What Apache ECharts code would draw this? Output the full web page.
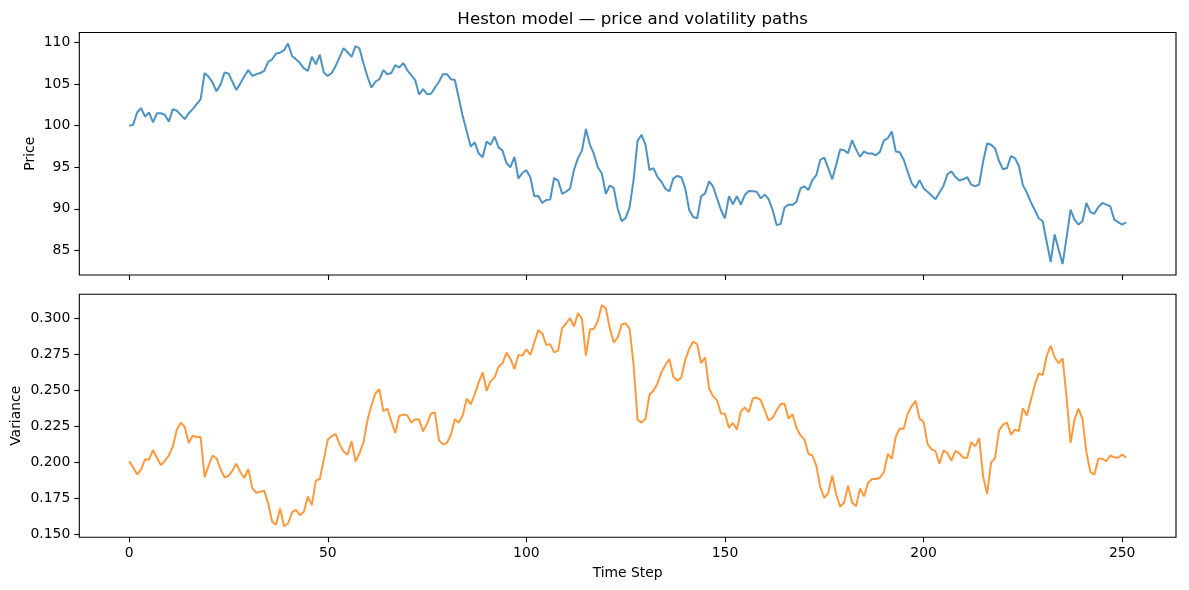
<!DOCTYPE html>
<html><head><meta charset="utf-8">
<script src="https://cdn.jsdelivr.net/npm/echarts@6/dist/echarts.min.js"></script>
<style>html,body{margin:0;padding:0;background:#fff}#c{width:1189px;height:590px}</style>
</head><body><div id="c"></div>
<script>
const price = [
100.0,100.1,101.6,102.1,101.1,101.6,100.4,101.5,101.5,101.3,
100.5,102.0,101.8,101.3,100.8,101.5,102.0,102.6,103.2,106.35,
105.9,105.2,104.15,104.95,106.4,106.3,105.3,104.3,105.1,105.95,
106.7,106.0,106.2,106.35,106.6,107.7,108.0,108.7,108.8,109.1,
109.9,108.4,108.0,107.55,106.9,106.6,108.3,107.4,108.55,106.4,
106.0,106.35,107.2,108.3,109.35,108.85,108.3,109.6,109.3,107.5,
105.9,104.6,105.3,105.6,106.7,106.2,106.35,107.3,107.0,107.55,
106.7,106.1,105.5,103.75,104.4,103.8,103.85,104.6,105.3,106.2,
106.2,105.6,105.5,103.3,101.1,99.3,97.5,98.0,96.65,96.2,
98.1,97.7,98.7,97.4,97.0,95.5,95.0,96.25,93.65,94.3,
94.65,93.8,91.5,91.55,90.7,91.05,91.1,93.7,93.4,91.8,
92.05,92.45,94.7,96.1,97.0,99.6,97.7,96.6,95.0,94.25,
91.8,92.8,92.5,90.0,88.5,88.9,90.2,93.5,98.2,98.9,
97.7,94.65,94.9,93.85,93.25,92.4,92.1,93.65,93.95,93.8,
92.45,89.85,89.0,88.85,91.5,91.85,93.3,92.7,91.25,89.85,
88.85,91.5,90.55,91.5,90.5,91.65,92.15,92.1,92.05,91.25,
91.7,91.15,89.85,88.05,88.15,90.15,90.5,90.45,90.85,92.45,
92.7,92.25,93.45,94.05,95.9,96.15,94.9,93.55,95.3,97.15,
97.05,96.7,98.25,97.15,96.25,96.9,96.65,96.65,96.45,96.85,
98.2,98.5,99.3,96.9,96.8,95.9,94.45,93.1,92.5,93.45,
92.45,92.05,91.6,91.15,91.95,92.75,94.15,94.5,93.85,93.4,
93.55,93.8,92.9,92.7,92.95,95.7,97.85,97.7,97.25,95.75,
94.75,94.9,96.35,96.1,95.15,92.85,91.95,90.8,89.85,88.85,
88.5,86.0,83.6,86.9,85.1,83.35,86.5,89.9,88.7,88.1,
88.5,90.7,89.6,89.4,90.2,90.7,90.5,90.3,88.7,88.4,
88.1,88.35
];
const variance = [
0.2009,0.1968,0.1919,0.1951,0.2023,0.2021,0.2086,0.2033,0.1982,0.2012,
0.2049,0.2110,0.2228,0.2277,0.2247,0.2135,0.2186,0.2177,0.2177,0.1898,
0.1979,0.2049,0.2030,0.1954,0.1898,0.1907,0.1944,0.1993,0.1933,0.1893,
0.1956,0.1823,0.1791,0.1798,0.1805,0.1716,0.1589,0.1568,0.1682,0.1558,
0.1577,0.1654,0.1672,0.1635,0.1658,0.1765,0.1705,0.1875,0.1886,0.2019,
0.2158,0.2184,0.2198,0.2126,0.2077,0.2054,0.2149,0.2007,0.2066,0.2141,
0.2293,0.2398,0.2479,0.2510,0.2356,0.2375,0.2286,0.2205,0.2323,0.2333,
0.2328,0.2277,0.2300,0.2298,0.2216,0.2270,0.2340,0.2347,0.2154,0.2126,
0.2137,0.2193,0.2300,0.2277,0.2328,0.2444,0.2403,0.2475,0.2556,0.2626,
0.2498,0.2565,0.2591,0.2665,0.2689,0.2763,0.2719,0.2649,0.2747,0.2742,
0.2786,0.2747,0.2833,0.2919,0.2896,0.2817,0.2822,0.2765,0.2777,0.2933,
0.2965,0.3003,0.2944,0.3037,0.2996,0.2742,0.2923,0.2928,0.2984,0.3091,
0.3072,0.2933,0.2833,0.2868,0.2958,0.2966,0.2928,0.2677,0.2297,0.2277,
0.2305,0.2472,0.2498,0.2549,0.2626,0.2677,0.2719,0.2596,0.2568,0.2589,
0.2712,0.2789,0.2840,0.2821,0.2689,0.2730,0.2514,0.2461,0.2433,0.2340,
0.2338,0.2242,0.2275,0.2230,0.2356,0.2382,0.2350,0.2444,0.2451,0.2433,
0.2363,0.2293,0.2310,0.2363,0.2405,0.2410,0.2305,0.2335,0.2240,0.2189,
0.2161,0.2061,0.2049,0.1979,0.1828,0.1754,0.1789,0.1910,0.1777,0.1693,
0.1723,0.1840,0.1723,0.1696,0.1821,0.1765,0.1858,0.1886,0.1886,0.1895,
0.1933,0.2061,0.2026,0.2180,0.2235,0.2235,0.2340,0.2391,0.2428,0.2305,
0.2282,0.2130,0.2091,0.2079,0.1991,0.2084,0.2065,0.2014,0.2079,0.2065,
0.2033,0.2033,0.2142,0.2112,0.2170,0.1903,0.1782,0.2000,0.2033,0.2223,
0.2263,0.2277,0.2193,0.2228,0.2219,0.2377,0.2326,0.2433,0.2537,0.2619,
0.2607,0.2740,0.2812,0.2730,0.2689,0.2723,0.2456,0.2135,0.2298,0.2375,
0.2305,0.2072,0.1933,0.1916,0.2026,0.2026,0.2009,0.2049,0.2037,0.2033,
0.2056,0.2033
];
const xTicks = [0, 50, 100, 150, 200, 250];
const priceTicks = [85, 90, 95, 100, 105, 110];
const varTicks = [0.150, 0.175, 0.200, 0.225, 0.250, 0.275, 0.300];

const FONT = 'DejaVu Sans';
const FS = 13.9;
const chart = echarts.init(document.getElementById('c'), null, {renderer: 'canvas'});
const steps = price.map((_, i) => i);
function pad(arr) {
  const mn = Math.min(...arr), mx = Math.max(...arr), r = mx - mn;
  return [mn - 0.05 * r, mx + 0.05 * r];
}
const xr = [-0.05 * (steps.length - 1), (steps.length - 1) * 1.05];
const pr = pad(price), vr = pad(variance);
const axisCommon = {
  axisLine: {show: false, onZero: false},
  splitLine: {show: false},
  nameMoveOverlap: false,
  axisTick: {show: true, inside: false, length: 5, lineStyle: {color: '#000', width: 1.1}},
  axisLabel: {color: '#000', fontFamily: FONT, fontSize: FS, margin: 9}
};
chart.setOption({
  animation: false,
  backgroundColor: '#fff',
  title: {
    text: 'Heston model — price and volatility paths',
    left: 627.7, top: 6, textAlign: 'center',
    textStyle: {fontFamily: FONT, fontSize: 16.7, fontWeight: 'normal', color: '#000'}
  },
  grid: [
    {left: 79.3, top: 32.5, width: 1096.7, height: 242.5, show: true, borderColor: '#000', borderWidth: 1.1, backgroundColor: 'transparent'},
    {left: 79.3, top: 294.3, width: 1096.7, height: 243, show: true, borderColor: '#000', borderWidth: 1.1, backgroundColor: 'transparent'}
  ],
  xAxis: [
    Object.assign({}, axisCommon, {
      type: 'value', gridIndex: 0, min: xr[0], max: xr[1], position: 'bottom',
      axisTick: Object.assign({}, axisCommon.axisTick, {customValues: xTicks}),
      axisLabel: Object.assign({}, axisCommon.axisLabel, {show: false, customValues: xTicks})
    }),
    Object.assign({}, axisCommon, {
      type: 'value', gridIndex: 1, min: xr[0], max: xr[1], position: 'bottom',
      name: 'Time Step', nameLocation: 'middle', nameGap: 29,
      nameTextStyle: {fontFamily: FONT, fontSize: FS, color: '#000'},
      axisTick: Object.assign({}, axisCommon.axisTick, {customValues: xTicks}),
      axisLabel: Object.assign({}, axisCommon.axisLabel, {customValues: xTicks})
    })
  ],
  yAxis: [
    Object.assign({}, axisCommon, {
      type: 'value', gridIndex: 0, min: pr[0], max: pr[1], position: 'left',
      name: 'Price', nameLocation: 'middle', nameGap: 42, nameRotate: 90,
      nameTextStyle: {fontFamily: FONT, fontSize: FS, color: '#000'},
      axisTick: Object.assign({}, axisCommon.axisTick, {customValues: priceTicks}),
      axisLabel: Object.assign({}, axisCommon.axisLabel, {customValues: priceTicks, formatter: v => String(Math.round(v))})
    }),
    Object.assign({}, axisCommon, {
      type: 'value', gridIndex: 1, min: vr[0], max: vr[1], position: 'left',
      name: 'Variance', nameLocation: 'middle', nameGap: 56, nameRotate: 90,
      nameTextStyle: {fontFamily: FONT, fontSize: FS, color: '#000'},
      axisTick: Object.assign({}, axisCommon.axisTick, {customValues: varTicks}),
      axisLabel: Object.assign({}, axisCommon.axisLabel, {customValues: varTicks, formatter: v => v.toFixed(3)})
    })
  ],
  series: [
    {type: 'line', xAxisIndex: 0, yAxisIndex: 0, data: steps.map(i => [i, price[i]]),
     showSymbol: false, lineStyle: {color: '#1f77b4', width: 2, opacity: 0.8}, itemStyle: {color: '#1f77b4'}},
    {type: 'line', xAxisIndex: 1, yAxisIndex: 1, data: steps.map(i => [i, variance[i]]),
     showSymbol: false, lineStyle: {color: '#ff7f0e', width: 2, opacity: 0.8}, itemStyle: {color: '#ff7f0e'}}
  ]
});
</script></body></html>
